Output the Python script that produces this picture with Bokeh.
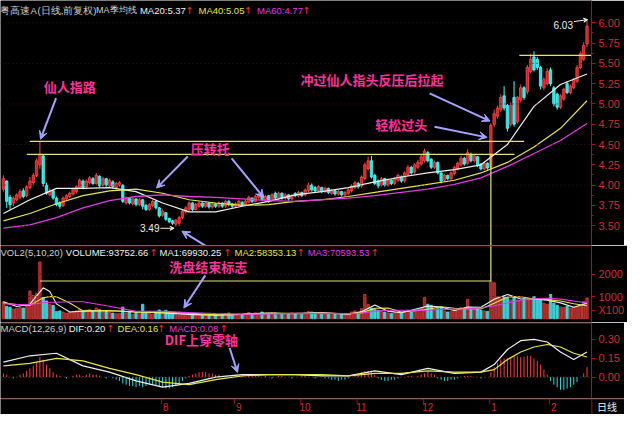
from bokeh.plotting import figure
from bokeh.layouts import column
from bokeh.models import (ColumnDataSource, Range1d, LinearAxis, FixedTicker,
                          NumeralTickFormatter, Label, Arrow, VeeHead, Span)
from bokeh.core.properties import value
from bokeh.embed import file_html
from bokeh.resources import INLINE

# ---------------- data ----------------
opens = [3.95,4.05,3.85,3.78,3.82,3.85,3.93,3.87,3.97,4.03,
         4.12,4.25,4.36,4.00,3.88,3.93,3.84,3.78,3.75,3.83,
         3.86,3.89,3.92,3.97,4.05,3.98,4.03,4.08,4.02,4.11,
         4.00,4.08,3.99,4.04,3.97,4.00,4.00,3.78,3.84,3.77,
         3.83,3.76,3.82,3.75,3.70,3.75,3.80,3.72,3.63,3.66,
         3.59,3.56,3.52,3.53,3.60,3.67,3.70,3.78,3.70,3.74,
         3.78,3.74,3.78,3.73,3.77,3.74,3.78,3.74,3.80,3.77,
         3.74,3.76,3.79,3.76,3.79,3.84,3.80,3.85,3.88,3.82,
         3.87,3.81,3.90,3.84,3.90,3.84,3.88,3.83,3.90,3.87,
         3.91,3.88,3.93,4.00,3.97,3.93,3.97,3.92,3.96,3.90,
         3.93,3.89,3.92,3.88,3.90,3.93,3.97,4.02,3.99,4.08,
         4.20,4.30,4.12,4.05,4.00,4.08,4.00,4.06,4.02,4.06,
         4.10,4.05,4.13,4.22,4.16,4.22,4.26,4.30,4.40,4.32,
         4.22,4.28,4.15,4.06,4.12,4.08,4.14,4.20,4.25,4.33,
         4.27,4.38,4.30,4.35,4.26,4.20,4.27,4.22,4.75,4.85,
         4.93,5.10,4.98,4.75,5.08,4.78,5.05,5.20,5.15,5.40,
         5.58,5.55,5.45,5.20,5.25,5.42,5.20,5.12,4.96,5.06,
         5.25,5.14,5.20,5.28,5.45,5.55,5.74]
closes = [4.08,3.80,3.76,3.84,3.88,3.92,3.86,3.98,4.05,4.12,
          4.30,4.38,4.02,3.90,3.93,3.84,3.76,3.74,3.84,3.87,
          3.90,3.95,3.98,4.06,3.97,4.05,4.09,4.02,4.12,3.99,
          4.08,4.00,4.06,3.98,4.02,4.03,3.80,3.84,3.78,3.83,
          3.76,3.82,3.74,3.70,3.76,3.80,3.72,3.62,3.68,3.58,
          3.55,3.53,3.57,3.60,3.68,3.72,3.78,3.70,3.76,3.78,
          3.74,3.78,3.73,3.77,3.74,3.78,3.74,3.80,3.76,3.74,
          3.77,3.80,3.76,3.80,3.85,3.80,3.86,3.88,3.82,3.86,
          3.80,3.88,3.84,3.90,3.84,3.88,3.83,3.87,3.87,3.91,
          3.87,3.94,4.00,3.94,3.93,3.98,3.92,3.96,3.91,3.93,
          3.89,3.92,3.88,3.91,3.94,3.99,4.03,3.98,4.10,4.25,
          4.30,4.10,4.02,3.99,4.08,4.00,4.06,4.02,4.08,4.12,
          4.05,4.15,4.22,4.15,4.25,4.28,4.35,4.42,4.30,4.22,
          4.28,4.15,4.05,4.12,4.08,4.15,4.22,4.27,4.33,4.26,
          4.40,4.30,4.36,4.24,4.20,4.27,4.21,4.74,4.88,4.95,
          5.08,4.95,4.70,4.98,4.75,5.08,5.20,5.08,5.45,5.55,
          5.42,5.45,5.22,5.30,5.40,5.25,5.00,4.96,5.10,5.18,
          5.14,5.22,5.30,5.45,5.62,5.72,5.96]
highs = [4.12,4.06,3.88,3.86,3.90,3.95,3.96,4.00,4.10,4.15,
         4.33,4.54,4.38,4.03,3.96,3.95,3.86,3.80,3.86,3.89,
         3.92,3.97,4.00,4.08,4.07,4.07,4.11,4.10,4.15,4.12,
         4.10,4.09,4.08,4.06,4.04,4.05,4.01,3.86,3.85,3.85,
         3.84,3.84,3.83,3.77,3.78,3.82,3.81,3.73,3.70,3.67,
         3.60,3.57,3.58,3.62,3.70,3.74,3.80,3.79,3.78,3.80,
         3.79,3.80,3.79,3.79,3.78,3.80,3.79,3.82,3.82,3.78,
         3.79,3.82,3.80,3.82,3.87,3.85,3.88,3.90,3.89,3.88,
         3.88,3.90,3.92,3.92,3.91,3.90,3.89,3.89,3.91,3.93,
         3.92,3.96,4.03,4.02,3.99,4.00,3.98,3.98,3.97,3.95,
         3.94,3.94,3.93,3.93,3.96,4.01,4.05,4.04,4.12,4.28,
         4.35,4.36,4.14,4.07,4.10,4.09,4.08,4.07,4.10,4.14,
         4.12,4.17,4.25,4.24,4.27,4.31,4.38,4.45,4.42,4.33,
         4.30,4.29,4.16,4.14,4.13,4.17,4.24,4.29,4.36,4.35,
         4.44,4.40,4.38,4.36,4.27,4.29,4.28,4.76,4.93,4.98,
         5.12,5.22,5.00,5.02,5.28,5.10,5.24,5.22,5.48,5.62,
         5.65,5.58,5.47,5.33,5.44,5.45,5.22,5.14,5.12,5.20,
         5.28,5.24,5.32,5.48,5.65,5.76,6.03]
lows = [3.92,3.72,3.70,3.74,3.80,3.83,3.84,3.85,3.95,4.00,
        4.10,4.20,3.98,3.88,3.86,3.82,3.74,3.71,3.73,3.81,
        3.84,3.87,3.90,3.95,3.95,3.96,4.01,4.00,4.00,3.97,
        3.98,3.98,3.97,3.96,3.95,3.98,3.78,3.76,3.76,3.75,
        3.74,3.74,3.70,3.68,3.68,3.73,3.70,3.60,3.61,3.56,
        3.53,3.51,3.49,3.50,3.58,3.65,3.68,3.68,3.69,3.72,
        3.72,3.72,3.71,3.71,3.72,3.72,3.72,3.72,3.74,3.72,
        3.72,3.74,3.74,3.75,3.78,3.78,3.79,3.83,3.80,3.80,
        3.78,3.80,3.82,3.82,3.82,3.82,3.81,3.81,3.85,3.85,
        3.85,3.86,3.91,3.92,3.91,3.91,3.90,3.90,3.89,3.88,
        3.87,3.87,3.86,3.86,3.88,3.91,3.95,3.96,3.97,4.06,
        4.18,4.08,4.00,3.96,3.98,3.98,3.98,4.00,4.00,4.04,
        4.03,4.03,4.11,4.13,4.14,4.20,4.24,4.28,4.28,4.20,
        4.20,4.13,4.02,4.04,4.06,4.06,4.12,4.18,4.23,4.24,
        4.25,4.28,4.28,4.22,4.18,4.18,4.19,4.20,4.72,4.82,
        4.90,4.92,4.66,4.72,4.72,4.76,5.02,5.05,5.12,5.38,
        5.40,5.42,5.18,5.17,5.23,5.22,4.97,4.93,4.94,5.04,
        5.12,5.12,5.18,5.26,5.43,5.53,5.70]
volumes = [760,560,520,430,470,500,480,560,1250,1050,
           1150,2560,960,800,650,600,320,350,300,250,
           280,320,350,420,330,380,420,350,480,400,
           300,330,280,250,220,230,520,260,300,200,
           280,220,650,320,230,200,260,390,220,380,
           300,250,180,170,200,190,230,180,170,160,
           150,170,150,160,170,180,200,230,250,200,
           180,200,190,210,280,230,260,240,300,250,
           230,270,260,240,220,200,210,250,230,220,
           200,250,320,300,280,220,250,200,230,180,
           220,190,200,180,220,300,350,260,450,1090,
           650,480,430,380,320,300,260,240,270,300,
           250,330,380,300,350,400,480,960,650,600,
           400,450,500,350,300,330,380,420,500,450,
           870,480,420,430,380,350,330,1700,1620,1000,
           900,1000,950,850,1000,850,800,900,850,900,
           1000,900,900,700,650,1090,700,600,520,500,
           560,480,520,560,620,780,937]
macd_hist = [0.03,0.02,0.00,-0.01,0.00,0.02,0.03,
             0.05,0.07,0.09,0.12,0.16,0.14,
             0.10,0.07,0.04,0.02,0.01,0.00,
             -0.01,0.00,0.01,0.02,0.02,0.01,0.02,0.03,0.02,0.02,0.01,0.00,-0.01,0.00,-0.01,-0.02,
             -0.03,-0.05,-0.06,-0.07,-0.07,-0.08,-0.07,-0.08,-0.07,-0.06,-0.06,-0.07,-0.08,-0.08,-0.09,-0.09,-0.08,-0.07,
             -0.05,-0.03,-0.01,0.01,0.02,0.03,0.04,0.04,0.04,0.03,0.03,0.02,0.02,0.01,
             0.01,0.00,-0.01,0.00,0.01,0.01,0.00,0.01,0.02,0.01,0.01,0.00,0.01,0.00,-0.01,0.00,
             0.01,0.01,0.00,0.00,-0.01,0.00,0.00,0.01,0.01,0.00,0.00,-0.01,0.00,0.00,-0.01,-0.01,
             -0.02,-0.02,-0.03,-0.02,-0.02,-0.01,0.00,
             0.02,0.03,0.04,0.05,0.05,0.04,0.02,
             -0.01,-0.02,-0.03,-0.03,-0.02,-0.02,-0.01,
             0.00,0.00,0.01,0.01,0.00,0.01,
             0.02,0.03,0.04,0.03,0.02,
             -0.01,-0.02,-0.03,-0.03,-0.02,-0.02,-0.01,
             0.00,0.01,0.01,0.01,0.00,0.00,-0.01,0.00,0.00,
             0.04,0.08,0.11,0.14,0.15,0.15,0.16,0.17,0.17,0.16,0.16,0.17,0.17,0.15,0.13,0.10,
             0.06,0.02,
             -0.03,-0.06,-0.08,-0.10,-0.10,-0.09,-0.08,-0.06,-0.04,
             0.00,0.03,0.08]

ma_idx = [0,8,16,24,32,40,48,56,64,72,80,88,96,104,112,120,128,136,144,152,160,168,176]
ma20 = [3.65,3.82,3.96,3.96,3.97,3.92,3.78,3.67,3.67,3.74,3.80,3.88,3.92,3.97,4.04,4.10,4.15,4.19,4.25,4.50,4.97,5.24,5.37]
ma40 = [3.56,3.65,3.77,3.87,3.93,3.95,3.90,3.82,3.78,3.75,3.76,3.80,3.82,3.86,3.91,3.96,4.01,4.06,4.15,4.28,4.47,4.70,5.04]
ma60 = [3.47,3.51,3.60,3.72,3.81,3.86,3.88,3.86,3.85,3.83,3.81,3.80,3.82,3.84,3.87,3.91,3.95,4.01,4.09,4.23,4.39,4.55,4.76]

vma_idx = [0,4,8,12,14,16,20,24,32,40,48,56,64,72,80,88,96,104,108,112,116,120,128,132,136,140,144,148,152,156,160,164,168,172,176]
vma5 = [760,548,652,1394,1224,666,300,340,358,312,260,194,160,204,256,222,274,202,316,620,338,264,568,520,372,524,516,876,1094,890,890,830,712,516,699]
vma10 = [700,640,600,941,996,990,707,352,369,287,297,251,170,185,240,240,250,220,260,470,480,300,420,540,470,450,440,700,980,990,890,860,800,670,584]
vma20 = [680,640,640,720,740,740,760,760,560,330,330,270,230,200,210,240,240,235,250,340,380,380,380,420,430,440,480,580,710,830,900,920,880,800,706]

line_idx = [0,8,16,24,32,40,48,56,64,72,80,88,96,104,112,120,128,136,144,148,152,156,160,164,168,172,176]
dif = [0.12,0.17,0.19,0.09,0.04,-0.03,-0.08,-0.05,0.00,0.02,0.02,0.02,0.01,0.01,0.05,0.02,0.07,0.03,0.04,0.10,0.22,0.29,0.30,0.28,0.20,0.14,0.20]
dea = [0.09,0.11,0.15,0.13,0.07,0.02,-0.04,-0.06,-0.02,0.01,0.02,0.02,0.02,0.01,0.03,0.03,0.05,0.04,0.04,0.06,0.14,0.20,0.24,0.26,0.24,0.19,0.16]

price_ticks = [3.50,3.75,4.00,4.25,4.50,4.75,5.00,5.25,5.50,5.75,6.00]
price_grid = [3.5,4.0,4.5,5.0,5.5,6.0]
vol_ticks = [390,1000,2000]
vol_tick_labels = ["X100","1000","2000"]
macd_ticks = [0.0,0.15,0.30]
month_pos = [49,71,91,108,128,148,166]
month_labels = ["8","9","10","11","12","1","2"]

spike_idx = 11        # 仙人指路
breakout_idx = 147    # 轻松过头
level_hi = 4.54
level_lo = 4.38
level_top = 5.60
vol_level = 1700
low_price = 3.49
high_price = 6.03

# ---------------- helpers: reference-pixel -> data ----------------
def X(px):
    return (px - 3.0) / 3.4

def PY(py):
    return 6.0 - (py - 23.3) / 84.8

def VY(py):
    return (332.0 - py) / 0.023

def MY(py):
    return (394.0 - py) * 0.0075

BG = "#000000"
AXR = "#a01414"
LBL = "#c83232"
WHITE = "#f0f0f0"
YEL = "#e6e64c"
MAG = "#e03ce0"
PINK = "#ff3399"
LAV = "#a4a4ff"
GRAY = "#d0d0d0"
UP_FILL, UP_LINE = "#c42626", "#ff4848"
DN_FILL, DN_LINE = "#36e0e0", "#54fafa"

xr = Range1d(-0.88, 177.35)
FW = 591


def make_fig(fw, fh, x_range, yr, right=33):
    p = figure(frame_width=fw, frame_height=fh, x_range=x_range, y_range=yr,
               output_backend="svg", toolbar_location=None,
               x_axis_location=None, y_axis_location=None,
               background_fill_color=BG, border_fill_color=BG,
               outline_line_color=None,
               min_border_left=0, min_border_right=right,
               min_border_top=0, min_border_bottom=0)
    p.xgrid.visible = False
    p.ygrid.visible = False
    return p


def right_axis(p, ticks, fmt, minor=None, overrides=None):
    ax = LinearAxis(ticker=FixedTicker(ticks=ticks, minor_ticks=minor or []),
                    formatter=NumeralTickFormatter(format=fmt),
                    axis_line_color=AXR, axis_line_width=1,
                    major_tick_line_color=AXR, major_tick_out=4, major_tick_in=0,
                    minor_tick_line_color=AXR, minor_tick_out=2, minor_tick_in=0,
                    major_label_text_color=LBL, major_label_text_font="Liberation Sans",
                    major_label_text_font_size="11px", major_label_standoff=3)
    if overrides:
        ax.major_label_overrides = overrides
    p.add_layout(ax, "right")
    return ax


def label(p, x, y, text, color, size="9.5px", font="Liberation Sans", align="left",
          bold=False):
    p.add_layout(Label(x=x, y=y, text=text, text_color=color, text_font=font,
                       text_font_size=size, text_baseline="middle", text_align=align,
                       text_font_style="bold" if bold else "normal"))


def arrow(p, x0, y0, x1, y1, color=LAV, w=2, size=8):
    p.add_layout(Arrow(end=VeeHead(size=size, line_color=color, fill_color=color),
                       x_start=x0, y_start=y0, x_end=x1, y_end=y1,
                       line_color=color, line_width=w))


n = len(closes)
idx = list(range(n))
up = [c >= o for o, c in zip(opens, closes)]

# ---------------- price panel ----------------
p1 = make_fig(FW, 245, xr, Range1d(3.256, 6.275))
right_axis(p1, price_ticks, "0.00",
           minor=[t + 0.125 for t in price_ticks[:-1]])
for g in price_grid:
    p1.add_layout(Span(location=g, dimension="width", line_color="#4a1010",
                       line_dash="1 3", line_width=1))

csrc = ColumnDataSource(dict(
    x=idx, h=highs, l=lows,
    top=[max(o, c) for o, c in zip(opens, closes)],
    bot=[min(o, c) for o, c in zip(opens, closes)],
    fill=[UP_FILL if u else DN_FILL for u in up],
    line=[UP_LINE if u else DN_LINE for u in up]))
p1.segment(x0="x", y0="l", x1="x", y1="h", line_color="line", line_width=1, source=csrc)
p1.vbar(x="x", width=0.72, top="top", bottom="bot", fill_color="fill",
        line_color="line", line_width=0.8, source=csrc)

p1.line(ma_idx, ma20, line_color=WHITE, line_width=1.2)
p1.line(ma_idx, ma40, line_color=YEL, line_width=1.2)
p1.line(ma_idx, ma60, line_color=MAG, line_width=1.3)

# resistance / support lines
p1.segment(x0=[X(30), X(27), X(532)], y0=[level_hi, level_lo, level_top],
           x1=[X(537), X(527), 177.35], y1=[level_hi, level_lo, level_top],
           line_color="#e2e27a", line_width=1.2)
p1.segment(x0=[breakout_idx], y0=[level_lo], x1=[breakout_idx], y1=[3.256],
           line_color="#e2e27a", line_width=1.2)

# header
for xp, t, c, s in [(0, "粤高速A", GRAY, "9.5px"), (38, "(日线,前复权)", GRAY, "9.5px"),
                    (98, "MA季均线", GRAY, "9px"), (143, "MA20:5.37", WHITE, "9.5px"),
                    (203, "MA40:5.05", YEL, "9.5px"), (263, "MA60:4.77", MAG, "9.5px")]:
    label(p1, X(xp), PY(10), t, c, size=s)
for xp in [190, 250, 310]:
    label(p1, X(xp), PY(10), "↑", "#ff3030", font="DejaVu Sans")

# annotations
CJK = "Noto Sans CJK SC"
label(p1, X(71), PY(90), "仙人指路", PINK, size="13px", font=CJK, align="center", bold=True)
label(p1, X(215), PY(155), "压转托", PINK, size="13px", font=CJK, align="center", bold=True)
label(p1, X(381), PY(83), "冲过仙人指头反压后拉起", PINK, size="13px", font=CJK, align="center", bold=True)
label(p1, X(411), PY(130), "轻松过头", PINK, size="13px", font=CJK, align="center", bold=True)
arrow(p1, X(57), PY(102), X(41), PY(145))
arrow(p1, X(192), PY(163), X(160), PY(196))
arrow(p1, X(237), PY(165), X(270), PY(206))
arrow(p1, X(440), PY(97), X(502), PY(126))
arrow(p1, X(445), PY(132), X(499), PY(143))
arrow(p1, X(213), PY(258), X(186), PY(241))

label(p1, X(153), PY(238), f"{low_price:.2f}", WHITE, size="10px", align="center")
arrow(p1, X(164), PY(238), X(178), PY(238), color=WHITE, w=1, size=4)
label(p1, X(577), PY(26), f"{high_price:.2f}", WHITE, size="10px", align="center")
arrow(p1, X(588), PY(22), X(602), PY(20), color=WHITE, w=1, size=4)

# ---------------- volume panel ----------------
p2 = make_fig(FW, 77, xr, Range1d(-174, 3304))
right_axis(p2, vol_ticks, "0",
           overrides={t: s for t, s in zip(vol_ticks, vol_tick_labels)})
p2.add_layout(Span(location=3290, dimension="width", line_color=AXR, line_width=1))
for g in vol_ticks[1:]:
    p2.add_layout(Span(location=g, dimension="width", line_color="#4a1010",
                       line_dash="1 3", line_width=1))
vsrc = ColumnDataSource(dict(
    x=idx, v=volumes,
    fill=["#9a2626" if u else "#38cdd6" for u in up],
    line=["#d84040" if u else "#4ae0e8" for u in up]))
p2.vbar(x="x", width=0.72, top="v", bottom=0, fill_color="fill", line_color="line",
        line_width=0.8, source=vsrc)
p2.line(vma_idx, vma5, line_color=WHITE, line_width=1.1)
p2.line(vma_idx, vma10, line_color=YEL, line_width=1.1)
p2.line(vma_idx, vma20, line_color=MAG, line_width=1.1)
p2.segment(x0=[spike_idx, breakout_idx], y0=[vol_level, vol_level],
           x1=[breakout_idx, breakout_idx], y1=[vol_level, 3304],
           line_color="#e2e27a", line_width=1.2)
for xp, t, c in [(0, "VOL2(5,10,20)", GRAY), (67, "VOLUME:93752.66", WHITE),
                 (163, "MA1:69930.25", WHITE), (240, "MA2:58353.13", YEL),
                 (315, "MA3:70593.53", MAG)]:
    label(p2, X(xp), VY(263), t, c)
for xp in [153, 229, 304, 380]:
    label(p2, X(xp), VY(263), "↑", "#ff3030", font="DejaVu Sans")
label(p2, X(213), VY(278), "洗盘结束标志", PINK, size="13px", font=CJK, align="center", bold=True)
arrow(p2, X(210), VY(287), X(188), VY(321))

# ---------------- MACD panel ----------------
p3 = make_fig(FW, 76, xr, Range1d(-0.17, 0.435))
right_axis(p3, macd_ticks, "0.00")
p3.add_layout(Span(location=0.43, dimension="width", line_color=AXR, line_width=1))
p3.add_layout(Span(location=0.0, dimension="width", line_color="#606060",
                   line_dash="1 3", line_width=1))
hsrc = ColumnDataSource(dict(
    x=idx, h=macd_hist,
    c=["#ff3c3c" if h >= 0 else "#38d6d6" for h in macd_hist]))
p3.segment(x0="x", y0=0, x1="x", y1="h", line_color="c", line_width=1, source=hsrc)
p3.line(line_idx, dif, line_color=WHITE, line_width=1.2)
p3.line(line_idx, dea, line_color=YEL, line_width=1.2)
for xp, t, c in [(0, "MACD(12,26,9)", GRAY), (70, "DIF:0.20", WHITE),
                 (120, "DEA:0.16", YEL), (173, "MACD:0.08", MAG)]:
    label(p3, X(xp), MY(342), t, c)
for xp in [109, 161, 225]:
    label(p3, X(xp), MY(342), "↑", "#ff3030", font="DejaVu Sans")
label(p3, X(206), MY(354), "DIF上穿零轴", PINK, size="13px", font=CJK, align="center", bold=True)
arrow(p3, X(235), MY(363), X(243), MY(389))

# ---------------- date strip ----------------
p4 = make_fig(624, 16, Range1d(X(0), X(640)), Range1d(0, 1), right=0)
p4.segment(x0=[X(0)], y0=[0.97], x1=[X(640)], y1=[0.97], line_color=AXR, line_width=1)
p4.segment(x0=[X(606.5)], y0=[0], x1=[X(606.5)], y1=[1], line_color=AXR, line_width=1)
p4.segment(x0=[m - 1.3 for m in month_pos], y0=1, x1=[m - 1.3 for m in month_pos], y1=0.65,
           line_color=AXR, line_width=1)
p4.text(x=month_pos, y=[0.45] * len(month_pos), text=month_labels,
        text_color=LBL, text_font=value("Liberation Sans"), text_font_size="10px",
        text_align="center", text_baseline="middle")
label(p4, X(622), 0.48, "日线", WHITE, size="10px", font=CJK, align="center")

layout = column(p1, p2, p3, p4, spacing=0)
open("out.html", "w").write(file_html(layout, INLINE))
